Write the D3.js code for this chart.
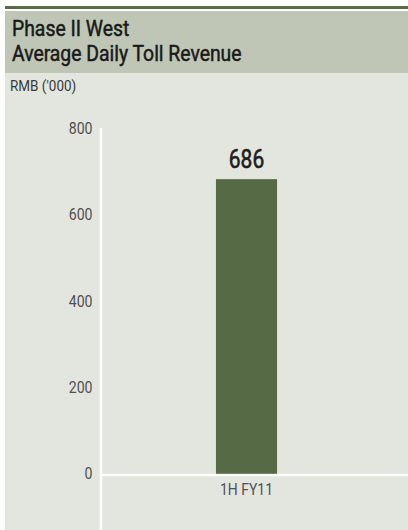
<!DOCTYPE html>
<html><head><meta charset="utf-8">
<script src="https://cdn.jsdelivr.net/npm/d3@7"></script>
<style>
html,body{margin:0;padding:0;background:#fff;}
svg{display:block;}
text{font-family:Roboto,"Liberation Sans",sans-serif;}
</style></head>
<body>
<svg id="chart" width="408" height="530"></svg>
<script>
const titleLines = ["Phase II West", "Average Daily Toll Revenue"];
const unitLabel = "RMB ('000)";
const categories = ["1H FY11"];
const values = [686];
const yTicks = [0, 200, 400, 600, 800];

const svg = d3.select("#chart");
const W = 408, H = 530;

// condense text horizontally (reference uses a condensed face)
function condense(sel, f) {
  sel.each(function () {
    const w = this.getComputedTextLength();
    d3.select(this).attr("textLength", w * f).attr("lengthAdjust", "spacingAndGlyphs");
  });
}

// frame
svg.append("rect").attr("x", 5).attr("y", 6).attr("width", W - 5).attr("height", 3).attr("fill", "#566d47");
svg.append("rect").attr("x", 5).attr("y", 11).attr("width", W - 5).attr("height", 62).attr("fill", "#c0c6b5");
svg.append("rect").attr("x", 5).attr("y", 73).attr("width", W - 5).attr("height", H - 73).attr("fill", "#e3e5df");

const titles = svg.selectAll("text.title").data(titleLines).enter().append("text")
  .attr("class", "title")
  .attr("x", 12).attr("y", (d, i) => 35.5 + i * 25.5)
  .attr("font-size", 21.5).attr("font-weight", 400).attr("fill", "#1a1a1a")
  .attr("stroke", "#1a1a1a").attr("stroke-width", 0.5)
  .text(d => d);
condense(titles, 0.9);

const unit = svg.append("text").attr("x", 10).attr("y", 91)
  .attr("font-size", 14.5).attr("fill", "#3a3a3a").text(unitLabel);
condense(unit, 0.93);

const y = d3.scaleLinear().domain([0, 800]).range([475, 130]);
const x = d3.scaleBand().domain(categories).range([101, 392]).padding(0.653);

// axis lines
svg.append("line").attr("x1", 101).attr("x2", 101).attr("y1", 128).attr("y2", H)
  .attr("stroke", "#fff").attr("stroke-width", 2.5);
svg.append("line").attr("x1", 101).attr("x2", W).attr("y1", y(0)).attr("y2", y(0))
  .attr("stroke", "#fff").attr("stroke-width", 2.5);

// y tick labels
const yAxis = d3.axisLeft(y).tickValues(yTicks).tickSize(0).tickPadding(0);
const gy = svg.append("g").attr("transform", "translate(92.5,-1.5)").call(yAxis);
gy.select(".domain").remove();
gy.selectAll("text").attr("font-size", 16).attr("fill", "#505050")
  .attr("font-family", "Roboto,sans-serif").attr("font-weight", 400);
condense(gy.selectAll("text"), 0.88);

// bars
svg.selectAll("rect.bar").data(values).enter().append("rect")
  .attr("class", "bar")
  .attr("x", (d, i) => x(categories[i]))
  .attr("width", x.bandwidth())
  .attr("y", d => y(d))
  .attr("height", d => y(0) - y(d) - 1.2)
  .attr("fill", "#566b45");

const vals = svg.selectAll("text.val").data(values).enter().append("text")
  .attr("class", "val")
  .attr("x", (d, i) => x(categories[i]) + x.bandwidth() / 2)
  .attr("y", d => y(d) - 11)
  .attr("text-anchor", "middle").attr("font-size", 25).attr("font-weight", 400).attr("fill", "#1e1e1e")
  .attr("stroke", "#1e1e1e").attr("stroke-width", 0.6)
  .text(d => d);
condense(vals, 0.84);

// x labels
const xAxis = d3.axisBottom(x).tickSize(0).tickPadding(0);
const gx = svg.append("g").attr("transform", `translate(0,${y(0)})`).call(xAxis);
gx.select(".domain").remove();
gx.selectAll("text").attr("font-size", 16).attr("fill", "#505050")
  .attr("font-family", "Roboto,sans-serif").attr("font-weight", 400)
  .attr("dy", null).attr("y", 20);
condense(gx.selectAll("text"), 0.87);
</script>
</body></html>
